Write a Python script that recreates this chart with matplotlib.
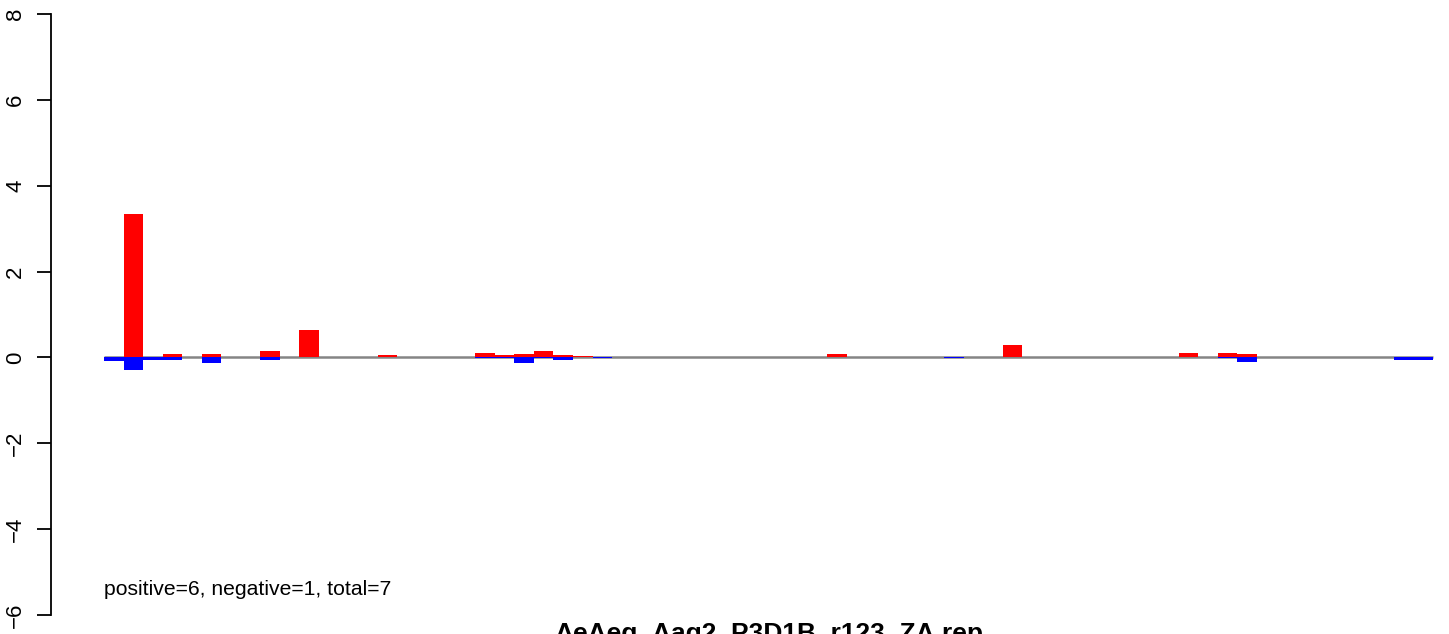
import numpy as np
import matplotlib.pyplot as plt
from matplotlib.transforms import blended_transform_factory

plt.rcParams['font.family'] = ['Liberation Sans', 'DejaVu Sans']

# 68 positions, bar k sits on [k, k+1]
n_bars = 68
pos_idx = [1, 3, 5, 7, 8, 9, 10, 11, 14, 19, 20, 21, 22, 23, 24, 25, 26,
           37, 39, 41, 43, 44, 46, 55, 56, 57, 58, 60]
pos_val = [3.35, 0.09, 0.07, 0.02, 0.16, 0.02, 0.65, 0.02, 0.05, 0.10, 0.05, 0.07, 0.14, 0.05, 0.04, 0.02, 0.02,
           0.08, 0.02, 0.02, 0.02, 0.02, 0.29, 0.10, 0.02, 0.10, 0.07, 0.02]
neg_idx = [0, 1, 2, 3, 5, 8, 19, 20, 21, 22, 23, 25, 43, 57, 58, 66, 67]
neg_val = [-0.09, -0.30, -0.07, -0.05, -0.12, -0.05, -0.02, -0.02, -0.12, -0.02, -0.05, -0.02, -0.02,
           -0.02, -0.10, -0.05, -0.05]

yticks = [-6, -4, -2, 0, 2, 4, 6, 8]
title = "AeAeg_Aag2_P3D1B_r123_ZA.rep"
note = "positive=6, negative=1, total=7"

W, H = 1449, 634
fig = plt.figure(figsize=(W / 100, H / 100), dpi=100)
ax = fig.add_axes([51 / W, 19 / H, (W - 51) / W, (615 - 14) / H])

pos = np.zeros(n_bars)
pos[pos_idx] = pos_val
neg = np.zeros(n_bars)
neg[neg_idx] = neg_val
x = np.arange(n_bars)

ax.hlines(0, 0, n_bars, color='#858585', lw=1.8, zorder=1)
ax.bar(x, pos, width=1, align='edge', color='#ff0000', lw=0, zorder=2)
ax.bar(x, neg, width=1, align='edge', color='#0000ff', lw=0, zorder=2)

ax.set_xlim(-2.712, 68.83)
ax.set_ylim(-6, 8)
for s in ['top', 'right', 'bottom']:
    ax.spines[s].set_visible(False)
ax.spines['left'].set_linewidth(1.3)
ax.set_xticks([])
ax.set_yticks(yticks)
ax.set_yticklabels([str(v).replace('-', '\u2212') for v in yticks], rotation=90, va='center', fontsize=16)
ax.tick_params(axis='y', length=10, width=1.3, pad=8)

ax.text(0, -5.4, note, fontsize=15.2, ha='left', va='center')
tr = blended_transform_factory(ax.transData, fig.transFigure)
ax.text(34, 12 / H, title, transform=tr, fontsize=19, fontweight='bold', ha='center', va='top', clip_on=False)

fig.savefig('out.png', dpi=100)
